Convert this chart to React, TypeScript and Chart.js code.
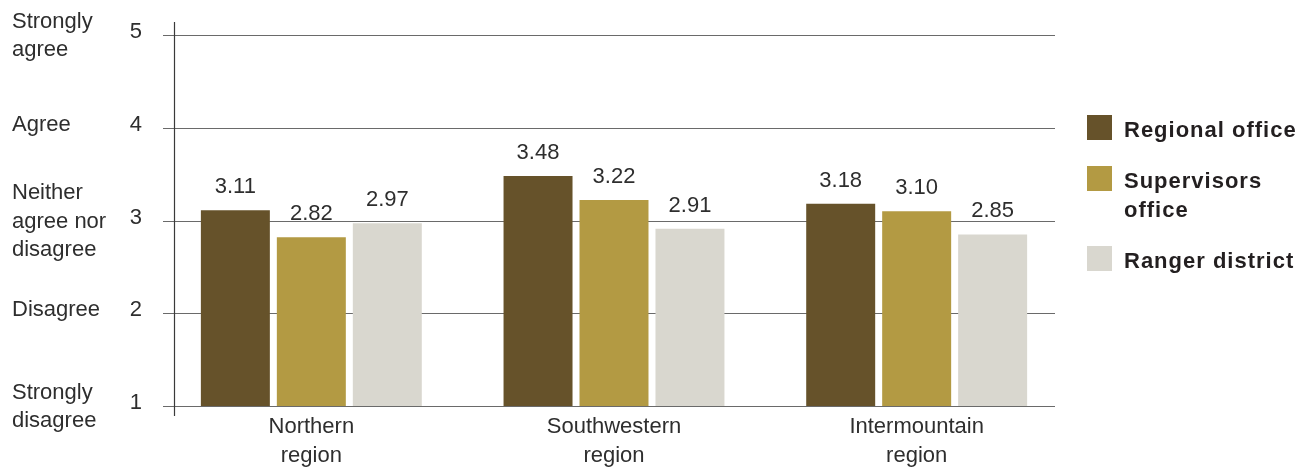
import React, { useEffect, useRef } from 'react';
import { Chart, registerables } from 'chart.js';

Chart.register(...registerables);

const categories = [['Northern', 'region'], ['Southwestern', 'region'], ['Intermountain', 'region']];
const seriesNames = ['Regional office', 'Supervisors office', 'Ranger district'];
const regionalOffice = [3.11, 3.48, 3.18];
const supervisorsOffice = [2.82, 3.22, 3.1];
const rangerDistrict = [2.97, 2.91, 2.85];
const yMin = 1;
const yMax = 5;
const scaleLabels = [
  ['Strongly', 'disagree'],
  ['Disagree'],
  ['Neither', 'agree nor', 'disagree'],
  ['Agree'],
  ['Strongly', 'agree'],
];

const colors = ['#66522a', '#b39a43', '#d9d7cf'];
const FONT = '"Liberation Sans", Arial, Helvetica, sans-serif';
const TEXT = '#2e2e2e';

const gridPlugin = {
  id: 'customGrid',
  beforeDatasetsDraw(chart: any) {
    const { ctx, chartArea } = chart;
    const y = chart.scales.y;
    ctx.save();
    ctx.strokeStyle = '#6a6a6a';
    ctx.lineWidth = 1.2;
    y.ticks.forEach((t: any) => {
      const py = Math.round(y.getPixelForValue(t.value)) + 0.5;
      ctx.beginPath();
      ctx.moveTo(chartArea.left + 3, py);
      ctx.lineTo(chartArea.right - 13, py);
      ctx.stroke();
    });
    ctx.strokeStyle = '#3a3a3a';
    const ax = chartArea.left + 14.5;
    ctx.beginPath();
    ctx.moveTo(ax, chartArea.top - 13);
    ctx.lineTo(ax, chartArea.bottom + 10);
    ctx.stroke();
    ctx.restore();
  },
};

const scaleLabelPlugin = {
  id: 'scaleLabels',
  afterDraw(chart: any) {
    const { ctx } = chart;
    const y = chart.scales.y;
    ctx.save();
    ctx.font = `22px ${FONT}`;
    ctx.fillStyle = TEXT;
    ctx.textAlign = 'left';
    ctx.textBaseline = 'middle';
    const lh = 28.7;
    scaleLabels.forEach((lines, i) => {
      const py = y.getPixelForValue(yMin + i);
      const n = lines.length;
      const off = n === 1 ? -3 : 1;
      lines.forEach((line, j) => {
        ctx.fillText(line, 12, py + off + (j - (n - 1) / 2) * lh);
      });
    });
    ctx.restore();
  },
};

const valueLabelPlugin = {
  id: 'valueLabels',
  afterDatasetsDraw(chart: any) {
    const { ctx } = chart;
    ctx.save();
    ctx.font = `22px ${FONT}`;
    ctx.fillStyle = TEXT;
    ctx.textAlign = 'center';
    ctx.textBaseline = 'alphabetic';
    chart.data.datasets.forEach((ds: any, di: number) => {
      const meta = chart.getDatasetMeta(di);
      meta.data.forEach((bar: any, i: number) => {
        ctx.fillText(Number(ds.data[i]).toFixed(2), bar.x, bar.y - 17);
      });
    });
    ctx.restore();
  },
};

const legendPlugin = {
  id: 'sideLegend',
  afterDraw(chart: any) {
    const { ctx, chartArea } = chart;
    ctx.save();
    ctx.font = `bold 22px ${FONT}`;
    (ctx as any).letterSpacing = '1px';
    ctx.textAlign = 'left';
    ctx.textBaseline = 'alphabetic';
    const boxX = chartArea.right + 19;
    const textX = boxX + 37;
    const maxW = chart.width - textX - 1;
    let top = 115;
    chart.data.datasets.forEach((ds: any) => {
      const words = String(ds.label).split(' ');
      const lines: string[] = [];
      let cur = '';
      words.forEach((w) => {
        const test = cur ? cur + ' ' + w : w;
        if (cur && ctx.measureText(test).width > maxW) {
          lines.push(cur);
          cur = w;
        } else cur = test;
      });
      if (cur) lines.push(cur);
      ctx.fillStyle = ds.backgroundColor;
      ctx.fillRect(boxX, top, 25, 25);
      ctx.fillStyle = '#231f20';
      lines.forEach((l, j) => ctx.fillText(l, textX, top + 22 + j * 29));
      top += lines.length * 29 + 22;
    });
    ctx.restore();
  },
};

export default function App() {
  const ref = useRef<HTMLCanvasElement>(null);
  useEffect(() => {
    document.body.style.margin = '0';
    const canvas = ref.current;
    if (!canvas) return;
    const chart = new Chart(canvas, {
      type: 'bar',
      data: {
        labels: categories as any,
        datasets: [
          { label: seriesNames[0], data: regionalOffice, backgroundColor: colors[0] },
          { label: seriesNames[1], data: supervisorsOffice, backgroundColor: colors[1] },
          { label: seriesNames[2], data: rangerDistrict, backgroundColor: colors[2] },
        ],
      },
      options: {
        animation: false,
        responsive: false,
        devicePixelRatio: 1,
        layout: { padding: { left: 0, right: 235, top: 35, bottom: 0 } },
        datasets: {
          bar: { barPercentage: 0.908, categoryPercentage: 0.753, base: yMin } as any,
        },
        plugins: {
          legend: { display: false },
          tooltip: { enabled: false },
        },
        scales: {
          x: {
            type: 'category',
            grid: { display: false, drawTicks: false },
            border: { display: false },
            ticks: {
              autoSkip: false,
              maxRotation: 0,
              minRotation: 0,
              padding: 7,
              color: TEXT,
              font: { family: FONT, size: 22, lineHeight: 1.3 },
            },
            afterFit(s: any) {
              s.height = 63;
            },
          },
          y: {
            type: 'linear',
            min: yMin,
            max: yMax,
            grid: { display: false, drawTicks: false },
            border: { display: false },
            ticks: {
              stepSize: 1,
              padding: 18,
              color: TEXT,
              font: { family: FONT, size: 22, lineHeight: '6px' as any },
              callback: (v: any) => [String(v), ''],
            },
            afterFit(s: any) {
              s.width = 160;
            },
          },
        },
      },
      plugins: [gridPlugin, scaleLabelPlugin, valueLabelPlugin, legendPlugin],
    });
    return () => chart.destroy();
  }, []);
  return <canvas ref={ref} width={1303} height={469} style={{ display: 'block' }} />;
}
